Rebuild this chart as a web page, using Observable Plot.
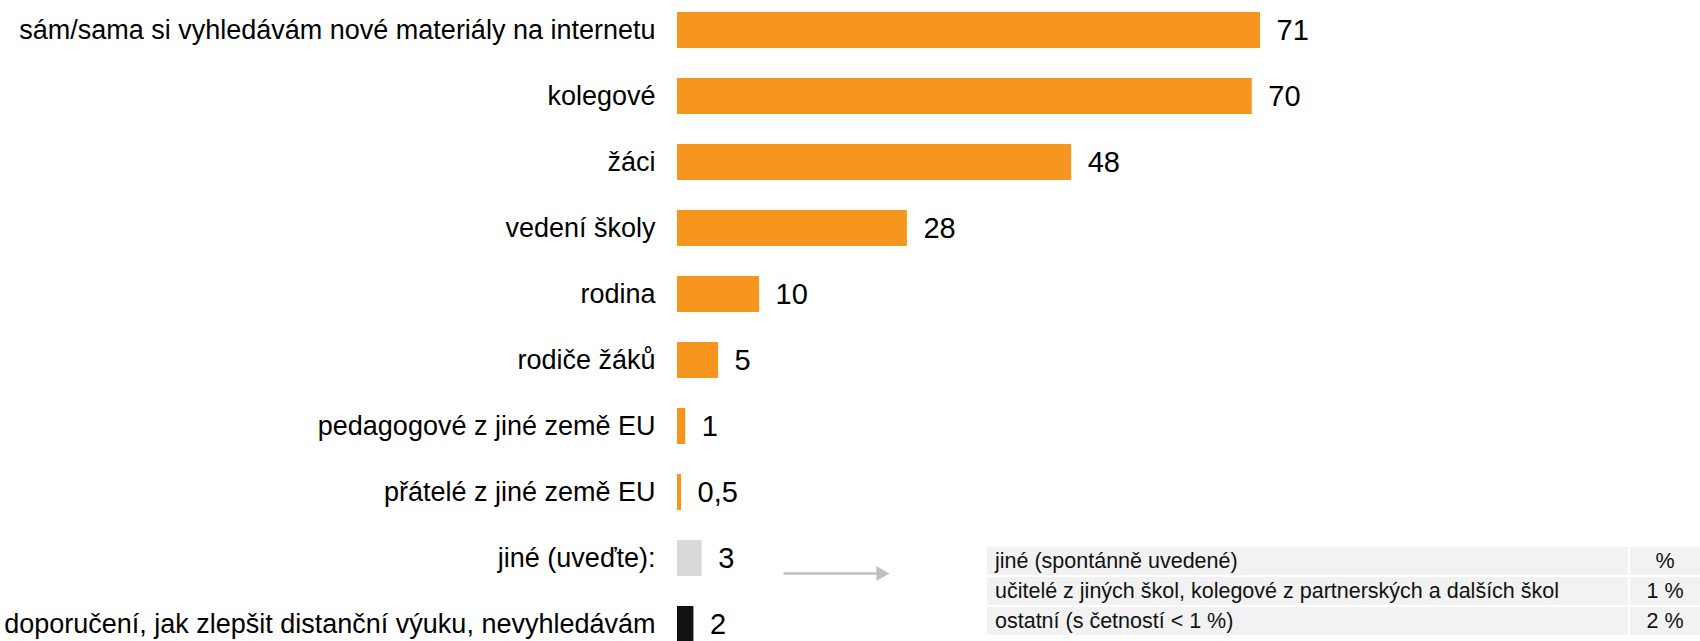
<!DOCTYPE html>
<html>
<head>
<meta charset="utf-8">
<script src="https://cdn.jsdelivr.net/npm/d3@7"></script>
<script src="https://cdn.jsdelivr.net/npm/@observablehq/plot@0.6"></script>
<style>
  html, body { margin: 0; padding: 0; background: #fff; overflow: hidden; }
  #stage {
    position: relative; width: 1700px; height: 641px;
    font-family: "Liberation Sans", Arial, sans-serif; color: #000;
  }
  #stage svg { position: absolute; left: 0; top: 0; }
  #note { position: absolute; left: 987px; top: 547px; width: 713px; }
  .row { display: flex; height: 28px; margin-bottom: 2px; font-size: 21.5px; line-height: 28px; color: #111; }
  .row .c1 { width: 641px; background: #F2F2F2; padding-left: 8px; box-sizing: border-box; white-space: nowrap; }
  .row .c2 { width: 70px; margin-left: 2px; background: #F2F2F2; text-align: center; white-space: nowrap; }
</style>
</head>
<body>
<div id="stage"><div id="note"></div></div>
<script>
// ---- data ----
const categories = [
  "sám/sama si vyhledávám nové materiály na internetu",
  "kolegové",
  "žáci",
  "vedení školy",
  "rodina",
  "rodiče žáků",
  "pedagogové z jiné země EU",
  "přátelé z jiné země EU",
  "jiné (uveďte):",
  "doporučení, jak zlepšit distanční výuku, nevyhledávám"
];
const values = [71, 70, 48, 28, 10, 5, 1, 0.5, 3, 2];
const groups = ["main", "main", "main", "main", "main", "main", "main", "main", "other", "none"];
const groupColors = ["#F7961E", "#D9D9D9", "#111111"];

const noteLabels = [
  "jiné (spontánně uvedené)",
  "učitelé z jiných škol, kolegové z partnerských a dalších škol",
  "ostatní (s četností < 1 %)"
];
const notePercents = ["%", "1 %", "2 %"];

// arrow pointing from the "jiné" bar to the note table (in value units)
const noteArrow = [{category: "jiné (uveďte):", from: 12.9, to: 24.75}];

const data = categories.map((c, i) => ({
  category: c,
  value: values[i],
  group: groups[i],
  label: String(values[i]).replace(".", ",")
}));

const FONT = '"Liberation Sans", Arial, sans-serif';

const chart = Plot.plot({
  width: 1700,
  height: 641,
  marginLeft: 677,
  marginRight: 440,
  marginTop: 2,
  marginBottom: -12,
  x: {domain: [0, 71], axis: null},
  y: {domain: categories, paddingInner: 0.45, paddingOuter: 0.1, label: null},
  color: {domain: ["main", "other", "none"], range: groupColors},
  style: {fontFamily: FONT, fontSize: "27px", color: "#000", background: "transparent"},
  marks: [
    Plot.barX(data, {x: "value", y: "category", fill: "group"}),
    Plot.text(data, {x: "value", y: "category", text: "label", textAnchor: "start", dx: 16, fontSize: 29, fill: "#000"}),
    Plot.axisY({tickSize: 0, tickPadding: 22, fontSize: 27, label: null, fill: "#000"}),
    Plot.link(noteArrow, {x1: "from", x2: "to", y1: "category", y2: "category", stroke: "#BFBFBF", strokeWidth: 2.5, dy: 15}),
    Plot.dot(noteArrow, {x: "to", y: "category", symbol: "triangle", r: 5.6, rotate: 90, fill: "#BFBFBF", stroke: null, dy: 15})
  ]
});

const stage = document.getElementById("stage");
stage.insertBefore(chart, stage.firstChild);

const note = document.getElementById("note");
noteLabels.forEach((t, i) => {
  const row = document.createElement("div");
  row.className = "row";
  const c1 = document.createElement("div");
  c1.className = "c1";
  c1.textContent = t;
  const c2 = document.createElement("div");
  c2.className = "c2";
  c2.textContent = notePercents[i];
  row.appendChild(c1);
  row.appendChild(c2);
  note.appendChild(row);
});
</script>
</body>
</html>
